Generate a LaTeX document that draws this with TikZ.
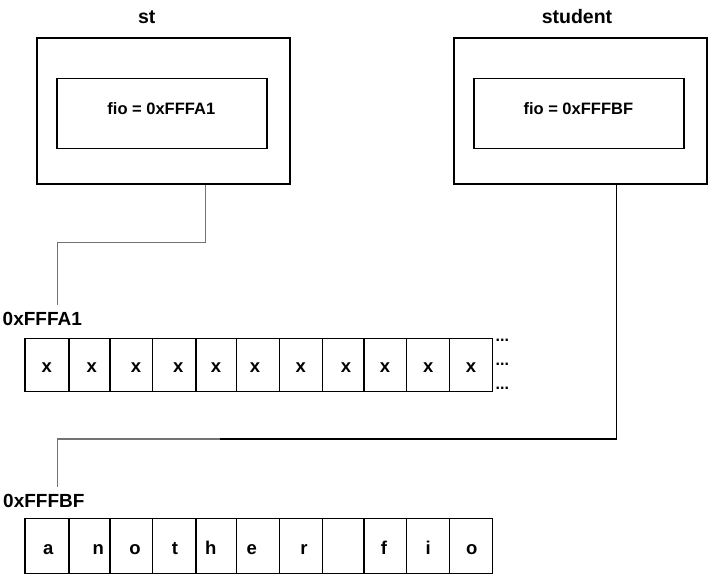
\documentclass[tikz,border=0pt]{standalone}
\usepackage{fontspec}
\setmainfont{Liberation Sans}
\begin{document}
\begin{tikzpicture}[x=1pt,y=-1pt,
  outerbox/.style={draw, line width=1.6pt, inner sep=0pt, minimum width=253pt, minimum height=146pt},
  innerbox/.style={draw, line width=1.6pt, inner sep=0pt, minimum width=210pt, minimum height=70pt},
  boxtext/.style={anchor=base, inner sep=0pt, font=\bfseries\fontsize{16.5}{18}\selectfont},
  title/.style={anchor=base, inner sep=0pt, font=\bfseries\fontsize{19.5}{22}\selectfont},
  addr/.style={anchor=base west, inner sep=0pt, font=\bfseries\fontsize{19}{22}\selectfont},
  cell/.style={draw, line width=1.3pt, inner sep=0pt},
  celltext/.style={anchor=base, inner sep=0pt, font=\bfseries\fontsize{18.5}{20}\selectfont},
  dots/.style={anchor=base west, inner sep=0pt, font=\bfseries\fontsize{16}{18}\selectfont},
  conn/.style={line width=1.2pt}]
\useasboundingbox (0,0) rectangle (708,574);

% titles
\node[title] (tst) at (146.7,23.3) {st};
\node[title] (tstud) at (577,23.3) {student};

% st box
\node[outerbox] (stout) at (163.5,111) {};
\node[innerbox] (stin) at (162,113.3) {};
\node[boxtext] (sttxt) at (161.3,114.3) {fio = 0xFFFA1};

% student box
\node[outerbox] (studout) at (580.2,111) {};
\node[innerbox] (studin) at (578.9,113.3) {};
\node[boxtext] (studtxt) at (578.3,114.3) {fio = 0xFFFBF};

% address labels
\node[addr] (lblA) at (2.5,325.5) {0xFFFA1};
\node[addr] (lblB) at (3,507.7) {0xFFFBF};

% array 1
\foreach \a/\b/\t [count=\i] in {25/69/46.7, 69/110/91.7, 110/152.7/136, 152.7/196/178.3, 196/236.7/216, 236.7/279.3/255, 279.3/322.7/300.7, 322.7/364/346, 364/406.7/385, 406.7/449.3/428.3, 449.3/492.7/471}{
  \node[cell, minimum width={(\b-\a)*1pt}, minimum height=53.4pt] (a\i) at ({(\a+\b)/2},365) {};
  \node[celltext] (at\i) at (\t,372.3) {x};
}
\node[dots] (d1) at (495.5,341.5) {...};
\node[dots] (d2) at (495.5,365) {...};
\node[dots] (d3) at (495.5,389.5) {...};

% array 2
\foreach \a/\b/\t/\c [count=\i] in {25/69/48.3/a, 69/110/98.3/n, 110/152.7/135/o, 152.7/196/175/t, 196/236.7/210.7/h, 236.7/279.3/251.7/e, 279.3/322.7/304/r, 322.7/364/343/{}, 364/406.7/384/f, 406.7/449.3/428.3/i, 449.3/492.7/471.7/o}{
  \node[cell, minimum width={(\b-\a)*1pt}, minimum height=55.4pt] (b\i) at ({(\a+\b)/2},546) {};
  \node[celltext] (bt\i) at (\t,554) {\c};
}

% connectors
\coordinate (endA) at (57.7,305);
\coordinate (endB) at (57.7,487);
\draw[conn, black!55] (stout.south -| 205.7,0) |- (57.7,242.5) -- (endA);
\draw[conn] (studout.south -| 616.7,0) |- (57.7,439) -- (endB);
\draw[conn, black!55] (220,439) -- (57.7,439) -- (endB);
\end{tikzpicture}
\end{document}
